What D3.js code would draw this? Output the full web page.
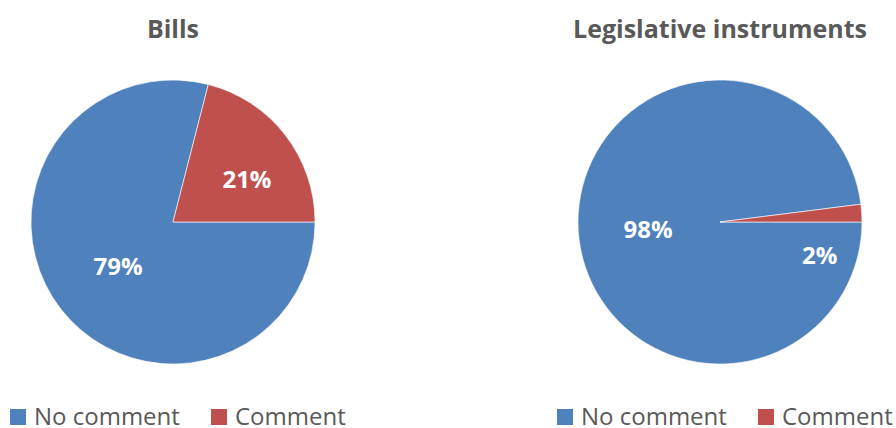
<!DOCTYPE html>
<html>
<head>
  <meta charset="utf-8">
  <script src="https://d3js.org/d3.v7.min.js"></script>
  <style>
    body { margin: 0; background: #fff; }
    text { font-family: "Open Sans", sans-serif; }
  </style>
</head>
<body>
<script>
  "use strict";

  // data
  var categories = ["No comment", "Comment"];
  var chartTitles = ["Bills", "Legislative instruments"];
  var billsValues = [79, 21];
  var instrumentValues = [98, 2];

  var colors = ["#4F81BD", "#C0504D"];
  var width = 896, height = 428;

  var svg = d3.select("body").append("svg")
      .attr("width", width)
      .attr("height", height);

  // layout of the two panels
  var panels = [
    { title: chartTitles[0], values: billsValues, cx: 173, cy: 222, legendX: 10,
      // label radius (fraction of r) and angle nudge (degrees) per slice
      labels: [{ f: 0.50, da: -1.5 }, { f: 0.60, da: 8 }] },
    { title: chartTitles[1], values: instrumentValues, cx: 720, cy: 222, legendX: 557,
      labels: [{ f: 0.51, da: -2.3 }, { f: 0.74, da: 22 }] }
  ];
  var radius = 142;

  var pie = d3.pie()
      .sort(null)
      .startAngle(Math.PI / 2)
      .endAngle(Math.PI / 2 + 2 * Math.PI);

  var arc = d3.arc().innerRadius(0).outerRadius(radius);

  panels.forEach(function (p) {
    var g = svg.append("g")
        .attr("transform", "translate(" + p.cx + "," + p.cy + ")");

    var slices = pie(p.values);

    g.selectAll("path")
        .data(slices)
        .enter()
        .append("path")
          .attr("d", arc)
          .attr("fill", function (d, i) { return colors[i]; })
          .attr("stroke", "#fff")
          .attr("stroke-width", 0.6);

    // data labels
    g.selectAll("text.lbl")
        .data(slices)
        .enter()
        .append("text")
          .attr("class", "lbl")
          .attr("transform", function (d, i) {
            var l = p.labels[i];
            var a = (d.startAngle + d.endAngle) / 2 + l.da * Math.PI / 180;
            var r = radius * l.f;
            var c = d3.arc().innerRadius(r).outerRadius(r)
                .startAngle(a).endAngle(a).centroid();
            return "translate(" + c[0] + "," + c[1] + ")";
          })
          .attr("text-anchor", "middle")
          .attr("dy", "0.35em")
          .style("font-size", "24px")
          .style("font-weight", "bold")
          .style("fill", "#fff")
          .text(function (d) { return d.data + "%"; });

    // title
    svg.append("text")
        .attr("x", p.cx)
        .attr("y", 38)
        .attr("text-anchor", "middle")
        .style("font-size", "25px")
        .style("font-weight", "bold")
        .style("fill", "#595959")
        .text(p.title);

    // legend
    var leg = svg.append("g")
        .attr("transform", "translate(" + p.legendX + ",408)");
    var offsets = [0, 201];
    categories.forEach(function (c, i) {
      leg.append("rect")
          .attr("x", offsets[i])
          .attr("y", 1)
          .attr("width", 16)
          .attr("height", 16)
          .attr("fill", colors[i]);
      leg.append("text")
          .attr("x", offsets[i] + 24)
          .attr("y", 17)
          .style("font-size", "24px")
          .style("fill", "#595959")
          .text(c);
    });
  });
</script>
</body>
</html>
